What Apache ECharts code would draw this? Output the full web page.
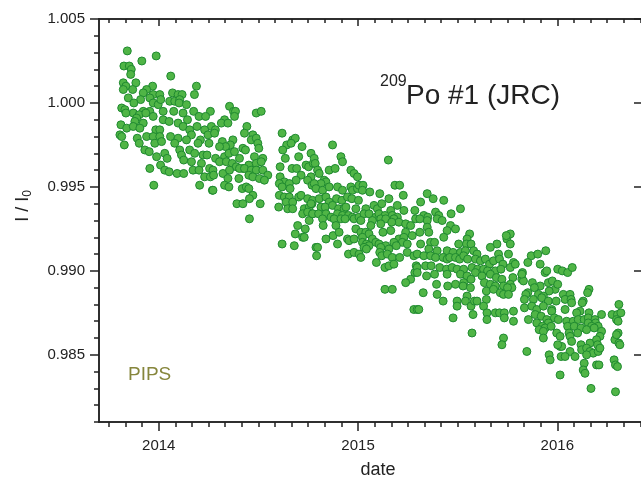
<!DOCTYPE html>
<html>
<head>
<meta charset="utf-8">
<script src="https://cdn.jsdelivr.net/npm/echarts@6/dist/echarts.min.js"></script>
<style>
  html, body { margin: 0; padding: 0; background: #fff; }
  #chart { width: 641px; height: 481px; }
</style>
</head>
<body>
<div id="chart"></div>
<script>
const pts2013 = [
  [2013.842,1.0031],[2013.987,1.0028],[2013.915,1.0025],[2013.825,1.0022],[2013.852,1.0022],[2013.862,1.0020],
  [2013.859,1.0017],[2013.885,1.0012],[2013.822,1.0012],[2013.835,1.0010],[2013.969,1.0010],[2013.822,1.0008],
  [2013.869,1.0008],[2013.939,1.0008],[2013.922,1.0006],[2013.972,1.0005],[2013.847,1.0003],[2013.955,1.0003],
  [2013.909,1.0002],[2013.875,1.0000],[2013.972,1.0000],[2013.997,0.9999],[2013.814,0.9997],[2013.830,0.9996],
  [2013.922,0.9995],[2013.955,0.9995],[2013.872,0.9994],[2013.835,0.9994],[2013.902,0.9993],[2013.935,0.9994],
  [2013.889,0.9991],[2013.972,0.9992],[2013.880,0.9989],[2013.922,0.9988],[2013.810,0.9987],[2013.839,0.9985],
  [2013.872,0.9986],[2013.905,0.9985],[2013.985,0.9984],[2013.805,0.9981],[2013.814,0.9980],[2013.939,0.9980],
  [2013.892,0.9979],[2013.972,0.9980],[2013.902,0.9976],[2013.980,0.9976],[2013.827,0.9975],[2013.930,0.9972],
  [2013.952,0.9971],[2013.989,0.9968],[2013.955,0.9961],[2013.975,0.9951]
];

const pts2014 = [
  [2014.060,1.0016],[2014.189,1.0010],[2014.069,1.0006],[2014.005,1.0005],[2014.097,1.0005],[2014.117,1.0005],
  [2014.179,1.0005],[2014.010,1.0002],[2014.055,1.0001],[2014.080,1.0001],[2014.105,1.0002],[2014.102,1.0000],
  [2014.139,0.9999],[2014.022,0.9995],[2014.075,0.9995],[2014.122,0.9994],[2014.175,0.9995],[2014.259,0.9995],
  [2014.202,0.9992],[2014.235,0.9992],[2014.144,0.9990],[2014.022,0.9990],[2014.052,0.9989],[2014.097,0.9988],
  [2014.122,0.9986],[2014.192,0.9986],[2014.264,0.9986],[2014.005,0.9984],[2014.155,0.9984],[2014.230,0.9984],
  [2014.005,0.9980],[2014.059,0.9980],[2014.164,0.9981],[2014.247,0.9981],[2014.097,0.9979],[2014.139,0.9978],
  [2014.209,0.9978],[2014.014,0.9977],[2014.080,0.9976],[2014.197,0.9976],[2014.252,0.9976],[2014.030,0.9970],
  [2014.105,0.9972],[2014.155,0.9972],[2014.180,0.9970],[2014.222,0.9969],[2014.242,0.9969],[2014.042,0.9967],
  [2014.114,0.9969],[2014.125,0.9966],[2014.164,0.9965],[2014.214,0.9964],[2014.009,0.9963],[2014.255,0.9961],
  [2014.030,0.9960],[2014.052,0.9959],[2014.092,0.9958],[2014.125,0.9958],[2014.172,0.9960],[2014.202,0.9960],
  [2014.230,0.9956],[2014.259,0.9956],[2014.205,0.9951],[2014.269,0.9948],
  [2014.355,0.9998],[2014.375,0.9995],[2014.385,0.9995],[2014.489,0.9994],[2014.514,0.9995],[2014.330,0.9990],
  [2014.314,0.9988],[2014.347,0.9988],[2014.380,0.9992],[2014.442,0.9986],[2014.284,0.9984],[2014.280,0.9982],
  [2014.430,0.9982],[2014.472,0.9981],[2014.464,0.9978],[2014.489,0.9979],[2014.497,0.9976],[2014.319,0.9977],
  [2014.372,0.9978],[2014.359,0.9975],[2014.335,0.9974],[2014.305,0.9974],[2014.422,0.9973],[2014.435,0.9972],
  [2014.502,0.9973],[2014.285,0.9967],[2014.330,0.9968],[2014.352,0.9970],[2014.380,0.9971],[2014.405,0.9967],
  [2014.480,0.9968],[2014.522,0.9967],[2014.305,0.9965],[2014.339,0.9965],[2014.369,0.9964],[2014.389,0.9962],
  [2014.422,0.9961],[2014.452,0.9963],[2014.489,0.9964],[2014.514,0.9965],[2014.272,0.9960],[2014.322,0.9958],
  [2014.355,0.9960],[2014.405,0.9961],[2014.430,0.9961],[2014.464,0.9960],[2014.489,0.9960],[2014.522,0.9960],
  [2014.547,0.9957],[2014.275,0.9957],[2014.347,0.9955],[2014.402,0.9955],[2014.452,0.9957],[2014.472,0.9956],
  [2014.505,0.9955],[2014.530,0.9954],[2014.272,0.9948],[2014.330,0.9951],[2014.352,0.9950],[2014.419,0.9949],
  [2014.439,0.9950],[2014.452,0.9949],[2014.472,0.9945],[2014.455,0.9943],[2014.392,0.9940],[2014.422,0.9940],
  [2014.509,0.9940],[2014.455,0.9931],
  [2014.619,0.9982],[2014.672,0.9978],[2014.685,0.9979],[2014.642,0.9975],[2014.719,0.9974],[2014.664,0.9976],
  [2014.622,0.9972],[2014.764,0.9970],[2014.635,0.9967],[2014.702,0.9968],[2014.609,0.9962],[2014.669,0.9961],
  [2014.692,0.9961],[2014.739,0.9963],[2014.752,0.9962],[2014.775,0.9964],[2014.714,0.9957],[2014.764,0.9956],
  [2014.609,0.9956],[2014.630,0.9953],[2014.689,0.9954],[2014.747,0.9954],[2014.605,0.9952],[2014.619,0.9950],
  [2014.655,0.9952],[2014.659,0.9949],[2014.769,0.9951],[2014.605,0.9945],[2014.630,0.9944],[2014.655,0.9944],
  [2014.639,0.9941],[2014.672,0.9941],[2014.702,0.9944],[2014.714,0.9945],[2014.747,0.9943],[2014.602,0.9938],
  [2014.647,0.9937],[2014.672,0.9937],[2014.730,0.9937],[2014.755,0.9938],[2014.769,0.9940],[2014.722,0.9934],
  [2014.747,0.9935],[2014.755,0.9930],[2014.772,0.9934],[2014.697,0.9927],[2014.735,0.9925],[2014.685,0.9922],
  [2014.722,0.9920],[2014.730,0.9920],[2014.619,0.9916],[2014.680,0.9915],
  [2014.872,0.9975],[2014.914,0.9968],[2014.922,0.9965],[2014.780,0.9967],[2014.785,0.9964],[2014.797,0.9960],
  [2014.805,0.9958],[2014.855,0.9960],[2014.885,0.9961],[2014.964,0.9960],[2014.980,0.9958],[2014.997,0.9956],
  [2014.830,0.9954],[2014.839,0.9953],[2014.814,0.9952],[2014.780,0.9952],[2014.789,0.9949],[2014.822,0.9948],
  [2014.855,0.9950],[2014.897,0.9950],[2014.922,0.9948],[2014.964,0.9950],[2014.972,0.9948],[2014.997,0.9949],
  [2014.772,0.9942],[2014.805,0.9943],[2014.839,0.9944],[2014.855,0.9941],[2014.892,0.9943],[2014.919,0.9942],
  [2014.947,0.9944],[2014.969,0.9943],[2014.764,0.9940],[2014.814,0.9938],[2014.835,0.9938],[2014.872,0.9939],
  [2014.902,0.9937],[2014.930,0.9937],[2014.939,0.9938],[2014.989,0.9937],[2014.772,0.9934],[2014.802,0.9934],
  [2014.839,0.9934],[2014.864,0.9932],[2014.897,0.9934],[2014.922,0.9933],[2014.952,0.9933],[2014.972,0.9932],
  [2014.822,0.9931],[2014.880,0.9931],[2014.914,0.9931],[2014.935,0.9931],[2014.980,0.9931],[2014.825,0.9927],
  [2014.889,0.9927],[2014.989,0.9925],[2014.875,0.9921],[2014.905,0.9923],[2014.947,0.9919],[2014.839,0.9919],
  [2014.955,0.9918],[2014.980,0.9919],[2014.789,0.9914],[2014.897,0.9916],[2014.797,0.9914],[2014.792,0.9909],
  [2014.952,0.9910],[2014.980,0.9911]
];

const pts2015 = [
  [2015.152,0.9966],[2015.005,0.9951],[2015.025,0.9951],[2015.022,0.9948],[2015.185,0.9951],[2015.209,0.9951],
  [2015.227,0.9945],[2015.059,0.9947],[2015.109,0.9946],[2015.155,0.9943],[2015.002,0.9942],[2015.039,0.9937],
  [2015.080,0.9939],[2015.097,0.9937],[2015.119,0.9940],[2015.164,0.9936],[2015.197,0.9939],[2015.230,0.9936],
  [2015.285,0.9936],[2015.005,0.9932],[2015.030,0.9934],[2015.055,0.9934],[2015.089,0.9932],[2015.105,0.9934],
  [2015.135,0.9933],[2015.172,0.9933],[2015.197,0.9932],[2015.289,0.9931],[2015.014,0.9930],[2015.072,0.9930],
  [2015.114,0.9931],[2015.139,0.9931],[2015.180,0.9931],[2015.205,0.9929],[2015.239,0.9928],[2015.264,0.9927],
  [2015.064,0.9927],[2015.114,0.9928],[2015.169,0.9929],[2015.014,0.9923],[2015.039,0.9923],[2015.055,0.9922],
  [2015.125,0.9923],[2015.164,0.9924],[2015.239,0.9923],[2015.272,0.9921],[2015.022,0.9920],[2015.072,0.9919],
  [2015.089,0.9917],[2015.205,0.9919],[2015.230,0.9920],[2015.022,0.9917],[2015.042,0.9916],[2015.055,0.9915],
  [2015.105,0.9916],[2015.139,0.9915],[2015.180,0.9917],[2015.222,0.9917],[2015.247,0.9916],[2015.030,0.9914],
  [2015.042,0.9913],[2015.114,0.9914],[2015.155,0.9913],[2015.192,0.9915],[2015.005,0.9910],[2015.014,0.9908],
  [2015.109,0.9911],[2015.119,0.9909],[2015.147,0.9910],[2015.172,0.9908],[2015.209,0.9908],[2015.247,0.9911],
  [2015.092,0.9905],[2015.135,0.9902],[2015.155,0.9903],[2015.180,0.9904],[2015.280,0.9909],[2015.297,0.9910],
  [2015.292,0.9903],[2015.285,0.9899],[2015.264,0.9895],[2015.239,0.9893],[2015.135,0.9889],[2015.172,0.9889],
  [2015.280,0.9877],[2015.297,0.9877],
  [2015.347,0.9946],[2015.377,0.9943],[2015.430,0.9942],[2015.314,0.9941],[2015.514,0.9937],[2015.467,0.9934],
  [2015.330,0.9933],[2015.350,0.9932],[2015.389,0.9935],[2015.405,0.9933],[2015.397,0.9931],[2015.422,0.9930],
  [2015.347,0.9930],[2015.310,0.9931],[2015.464,0.9927],[2015.489,0.9925],[2015.347,0.9926],[2015.447,0.9924],
  [2015.310,0.9923],[2015.355,0.9923],[2015.560,0.9922],[2015.547,0.9919],[2015.430,0.9920],[2015.747,0.9919],
  [2015.764,0.9922],[2015.744,0.9921],[2015.314,0.9916],[2015.364,0.9917],[2015.384,0.9917],[2015.505,0.9916],
  [2015.544,0.9916],[2015.567,0.9916],[2015.697,0.9916],[2015.664,0.9914],[2015.764,0.9916],[2015.355,0.9913],
  [2015.397,0.9912],[2015.447,0.9912],[2015.477,0.9911],[2015.514,0.9911],[2015.539,0.9912],[2015.580,0.9912],
  [2015.597,0.9910],[2015.705,0.9910],[2015.755,0.9910],[2015.330,0.9909],[2015.364,0.9909],[2015.389,0.9908],
  [2015.427,0.9908],[2015.447,0.9907],[2015.460,0.9908],[2015.489,0.9908],[2015.510,0.9907],[2015.530,0.9909],
  [2015.550,0.9907],[2015.589,0.9907],[2015.614,0.9906],[2015.639,0.9907],[2015.660,0.9904],[2015.680,0.9906],
  [2015.710,0.9907],[2015.727,0.9904],[2015.780,0.9905],[2015.297,0.9902],[2015.339,0.9903],[2015.367,0.9903],
  [2015.410,0.9902],[2015.444,0.9901],[2015.472,0.9902],[2015.497,0.9901],[2015.530,0.9901],[2015.572,0.9902],
  [2015.600,0.9901],[2015.630,0.9901],[2015.650,0.9900],[2015.689,0.9900],[2015.717,0.9901],[2015.764,0.9902],
  [2015.789,0.9904],[2015.297,0.9899],[2015.344,0.9897],[2015.384,0.9898],[2015.447,0.9898],[2015.514,0.9898],
  [2015.547,0.9897],[2015.589,0.9899],[2015.622,0.9897],[2015.664,0.9898],[2015.694,0.9896],[2015.722,0.9895],
  [2015.777,0.9896],[2015.822,0.9898],[2015.530,0.9893],[2015.567,0.9895],[2015.634,0.9893],[2015.664,0.9892],
  [2015.689,0.9891],[2015.730,0.9891],[2015.764,0.9892],[2015.772,0.9890],[2015.822,0.9895],[2015.394,0.9892],
  [2015.450,0.9891],[2015.489,0.9892],[2015.527,0.9891],[2015.564,0.9890],[2015.644,0.9888],[2015.680,0.9889],
  [2015.714,0.9887],[2015.750,0.9890],[2015.730,0.9886],[2015.327,0.9887],[2015.397,0.9886],[2015.547,0.9885],
  [2015.644,0.9883],[2015.755,0.9886],[2015.427,0.9882],[2015.497,0.9882],[2015.497,0.9879],[2015.539,0.9882],
  [2015.567,0.9879],[2015.584,0.9882],[2015.597,0.9882],[2015.630,0.9879],[2015.305,0.9877],[2015.647,0.9875],
  [2015.689,0.9875],[2015.710,0.9875],[2015.734,0.9875],[2015.734,0.9872],[2015.780,0.9876],[2015.780,0.9870],
  [2015.647,0.9871],[2015.477,0.9872],[2015.577,0.9874],[2015.572,0.9863],[2015.730,0.9860],[2015.722,0.9856],
  [2015.869,0.9909],[2015.902,0.9910],[2015.942,0.9912],[2015.852,0.9905],[2015.914,0.9904],[2015.939,0.9899],
  [2015.947,0.9900],[2015.825,0.9899],[2015.830,0.9894],[2015.822,0.9898],[2015.955,0.9893],[2015.975,0.9894],
  [2015.875,0.9893],[2015.914,0.9891],[2015.989,0.9889],[2015.959,0.9888],[2015.885,0.9890],[2015.852,0.9887],
  [2015.842,0.9886],[2015.905,0.9886],[2015.930,0.9885],[2015.835,0.9883],[2015.880,0.9883],[2015.922,0.9884],
  [2015.955,0.9882],[2015.994,0.9882],[2015.835,0.9878],[2015.872,0.9879],[2015.897,0.9877],[2015.930,0.9879],
  [2015.972,0.9877],[2015.889,0.9874],[2015.919,0.9873],[2015.972,0.9876],[2015.985,0.9872],[2015.855,0.9871],
  [2015.947,0.9871],[2015.955,0.9869],[2015.897,0.9869],[2015.925,0.9867],[2015.909,0.9865],[2015.939,0.9866],
  [2015.969,0.9867],[2015.930,0.9864],[2015.930,0.9860],[2015.997,0.9863],[2015.847,0.9852],[2015.959,0.9850],
  [2015.964,0.9847]
];

const pts2016 = [
  [2016.002,0.9901],[2016.025,0.9900],[2016.052,0.9899],[2016.075,0.9902],[2016.002,0.9892],[2016.030,0.9886],
  [2016.064,0.9886],[2016.159,0.9889],[2016.152,0.9887],[2016.039,0.9883],[2016.069,0.9883],[2016.072,0.9881],
  [2016.130,0.9882],[2016.309,0.9880],[2016.039,0.9877],[2016.125,0.9881],[2016.275,0.9874],[2016.302,0.9874],
  [2016.319,0.9875],[2016.297,0.9871],[2016.305,0.9870],[2016.114,0.9876],[2016.097,0.9875],[2016.159,0.9875],
  [2016.222,0.9874],[2016.005,0.9871],[2016.047,0.9870],[2016.080,0.9870],[2016.105,0.9871],[2016.135,0.9871],
  [2016.155,0.9872],[2016.189,0.9871],[2016.155,0.9869],[2016.192,0.9869],[2016.205,0.9867],[2016.172,0.9867],
  [2016.052,0.9867],[2016.085,0.9867],[2016.119,0.9866],[2016.147,0.9865],[2016.185,0.9866],[2016.222,0.9864],
  [2016.214,0.9861],[2016.014,0.9861],[2016.059,0.9863],[2016.064,0.9861],[2016.102,0.9863],[2016.305,0.9863],
  [2016.289,0.9859],[2016.309,0.9857],[2016.297,0.9862],[2016.314,0.9856],[2016.072,0.9858],[2016.119,0.9856],
  [2016.164,0.9857],[2016.197,0.9859],[2016.202,0.9856],[2016.014,0.9855],[2016.022,0.9855],[2016.002,0.9856],
  [2016.064,0.9852],[2016.122,0.9853],[2016.147,0.9854],[2016.164,0.9852],[2016.180,0.9851],[2016.205,0.9852],
  [2016.214,0.9854],[2016.019,0.9849],[2016.039,0.9849],[2016.089,0.9849],[2016.147,0.9850],[2016.285,0.9847],
  [2016.292,0.9844],[2016.302,0.9843],[2016.135,0.9845],[2016.130,0.9841],[2016.139,0.9839],[2016.197,0.9844],
  [2016.209,0.9844],[2016.014,0.9838],[2016.169,0.9830],[2016.292,0.9828]
];

const xMin = 2013.70, xMax = 2016.42;
const yMin = 0.981, yMax = 1.005;
const yearTicks = [2014, 2015, 2016];
const monthTicks = [];
for (let m = 9; m <= 12 * 3 + 5; m++) monthTicks.push(2013 + m / 12);
const yMajor = [0.985, 0.990, 0.995, 1.000, 1.005];
const yMinor = [];
for (let k = 981; k <= 1005; k++) yMinor.push(k / 1000);

const chart = echarts.init(document.getElementById('chart'));

const axisColor = '#222';
const fontName = 'Liberation Sans, Arial, sans-serif';
const labelFont = { fontFamily: fontName, fontSize: 15, color: '#222' };

function xAx(position, ticks, len, inside, labels) {
  return {
    type: 'value', position: position, min: xMin, max: xMax,
    axisLine: { show: true, onZero: false, lineStyle: { color: axisColor, width: 1.5 } },
    axisTick: { show: true, inside: inside, length: len, customValues: ticks, lineStyle: { color: axisColor, width: 1.5 } },
    axisLabel: labels ? Object.assign({ show: true, customValues: yearTicks, margin: 16, formatter: v => String(Math.round(v)) }, labelFont) : { show: false },
    splitLine: { show: false }
  };
}

function yAx(position, ticks, len, inside, labels, line) {
  return {
    type: 'value', position: position, min: yMin, max: yMax,
    axisLine: { show: line, onZero: false, lineStyle: { color: axisColor, width: 1.5 } },
    axisTick: { show: true, inside: inside, length: len, customValues: ticks, lineStyle: { color: axisColor, width: 1.5 } },
    axisLabel: labels ? Object.assign({ show: true, customValues: yMajor, margin: 14, formatter: v => v.toFixed(3) }, labelFont) : { show: false },
    splitLine: { show: false }
  };
}

chart.setOption({
  animation: false,
  backgroundColor: '#fff',
  grid: { left: 99, top: 19, width: 544, height: 403 },
  xAxis: [
    xAx('bottom', yearTicks, 9, false, true),
    xAx('bottom', monthTicks, 5, false, false),
    xAx('top', yearTicks, 7, true, false),
    xAx('top', monthTicks, 4, true, false)
  ],
  yAxis: [
    yAx('left', yMajor, 9, false, true, true),
    yAx('left', yMinor, 5, false, false, true),
    yAx('right', yMajor, 7, true, false, false)
  ],
  series: [{
    type: 'scatter',
    xAxisIndex: 0,
    yAxisIndex: 0,
    symbol: 'circle',
    symbolSize: 8,
    itemStyle: { color: '#50b546', borderColor: '#1f8a30', borderWidth: 1, opacity: 1 },
    data: pts2013.concat(pts2014, pts2015, pts2016)
  }],
  graphic: [
    {
      type: 'text', x: 380, y: 74,
      style: { text: '209', fontSize: 16, fontFamily: fontName, fill: '#222' }
    },
    {
      type: 'text', x: 406, y: 82,
      style: { text: 'Po #1 (JRC)', fontSize: 28, fontFamily: fontName, fill: '#222' }
    },
    {
      type: 'text', x: 128, y: 365,
      style: { text: 'PIPS', fontSize: 19, fontFamily: fontName, fill: '#86863c' }
    },
    {
      type: 'text', x: 378, y: 470,
      style: { text: 'date', fontSize: 18, fontFamily: fontName, fill: '#222', align: 'center', verticalAlign: 'middle' }
    },
    {
      type: 'text', x: 23, y: 206, rotation: Math.PI / 2,
      style: {
        text: '{m|I / I}{s|0}',
        align: 'center', verticalAlign: 'middle',
        rich: {
          m: { fontSize: 18, fontFamily: fontName, fill: '#222', lineHeight: 22 },
          s: { fontSize: 12, fontFamily: fontName, fill: '#222', verticalAlign: 'bottom' }
        }
      }
    }
  ]
});
</script>
</body>
</html>
